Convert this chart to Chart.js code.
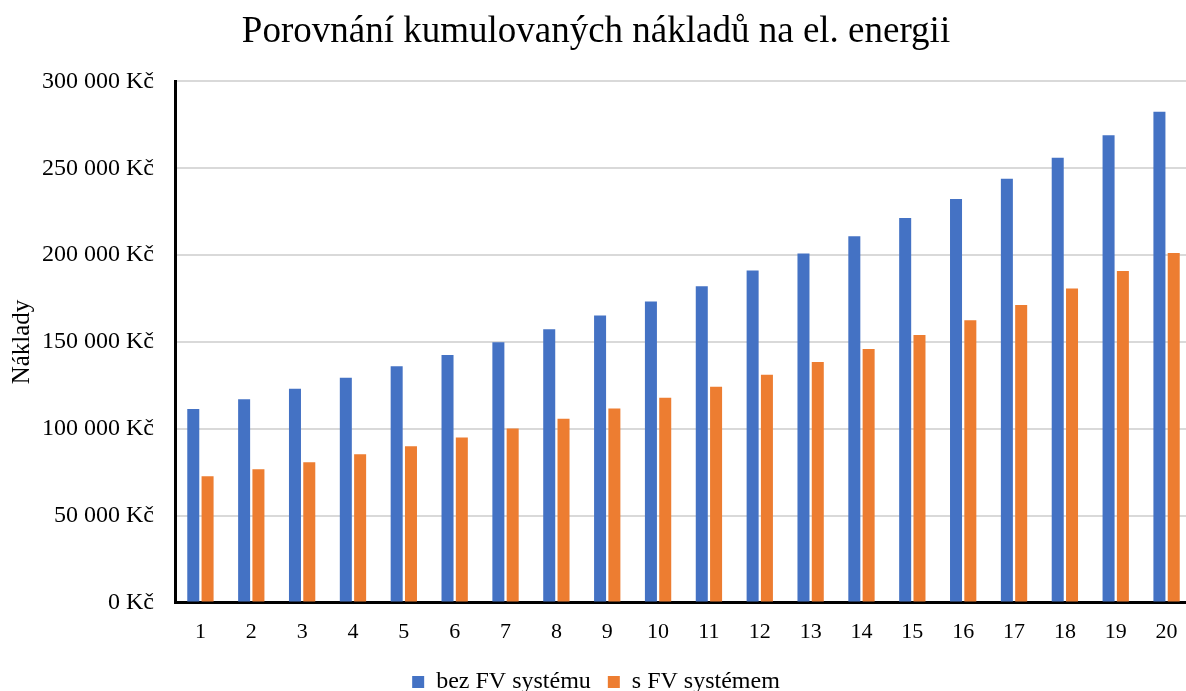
<!DOCTYPE html>
<html lang="cs">
<head>
<meta charset="utf-8">
<title>Porovnání kumulovaných nákladů na el. energii</title>
<script src="https://cdn.jsdelivr.net/npm/chart.js@4"></script>
<style>
    html, body { margin: 0; padding: 0; background: #fff; overflow: hidden; }
    #wrap { position: absolute; left: 0; top: 0; width: 1192px; height: 704px; }
</style>
</head>
<body>
<div id="wrap"><canvas id="costChart"></canvas></div>
<script>
// roky 1..20
const years = ['1', '2', '3', '4', '5', '6', '7', '8', '9', '10',
    '11', '12', '13', '14', '15', '16', '17', '18', '19', '20'];

// kumulované náklady bez FV systému (Kč)
const withoutPv = [111500, 117100, 123100, 129400, 136000, 142500, 149800, 157300, 165200, 173300,
    182100, 191200, 201000, 210800, 221400, 232300, 244000, 256000, 269000, 282500];

// kumulované náklady s FV systémem (Kč)
const withPv = [72700, 76700, 80800, 85400, 90000, 95000, 100200, 105800, 111700, 117900,
    124200, 131200, 138500, 146000, 154000, 162500, 171300, 180800, 190800, 201200];

const seriesNames = ['bez FV systému', 's FV systémem'];

const serif = "'Liberation Serif', 'Times New Roman', serif";

const formatKc = (value) => String(value).replace(/\B(?=(\d{3})+(?!\d))/g, ' ') + ' Kč';

const chartConfig = {
    type: 'bar',
    data: {
        labels: years,
        datasets: [
            {
                label: seriesNames[0],
                data: withoutPv,
                backgroundColor: '#4472C4',
                borderWidth: 0,
            },
            {
                label: seriesNames[1],
                data: withPv,
                backgroundColor: '#ED7D31',
                borderWidth: 0,
            },
        ],
    },
    options: {
        responsive: true,
        maintainAspectRatio: false,
        animation: false,
        datasets: {
            bar: {
                categoryPercentage: 0.5625,
                barPercentage: 0.84,
            },
        },
        plugins: {
            title: {
                display: true,
                text: 'Porovnání kumulovaných nákladů na el. energii',
                color: '#000',
                font: { family: serif, size: 37, weight: 'normal' },
                padding: { top: 10, bottom: 27 },
            },
            legend: {
                position: 'bottom',
                labels: {
                    color: '#000',
                    font: { family: serif, size: 24 },
                    boxWidth: 12,
                    boxHeight: 12,
                    padding: 17,
                },
            },
            tooltip: { enabled: false },
        },
        scales: {
            x: {
                grid: { display: false },
                border: { display: true, color: '#000', width: 3 },
                ticks: {
                    color: '#000',
                    font: { family: serif, size: 22 },
                    padding: 8,
                    maxRotation: 0,
                },
            },
            y: {
                min: 0,
                max: 300000,
                grid: { color: '#d9d9d9', lineWidth: 2, drawTicks: false },
                border: { display: true, color: '#000', width: 3 },
                ticks: {
                    stepSize: 50000,
                    color: '#000',
                    font: { family: serif, size: 24 },
                    padding: 21,
                    callback: (value) => formatKc(value),
                },
                title: {
                    display: true,
                    text: 'Náklady',
                    color: '#000',
                    font: { family: serif, size: 25 },
                    padding: { top: 7, bottom: 0 },
                },
                // pevná šířka osy, ať plocha grafu začíná na x = 175
                afterFit: (scale) => { scale.width = 175; },
            },
        },
    },
};

new Chart(document.getElementById('costChart'), chartConfig);
</script>
</body>
</html>
